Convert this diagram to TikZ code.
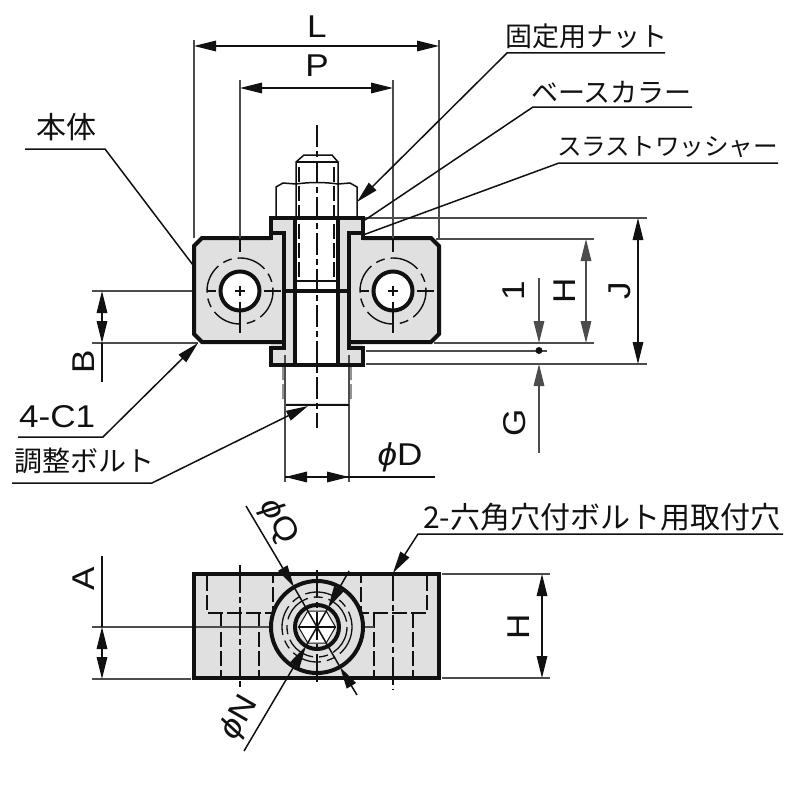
\documentclass[tikz,border=0pt]{standalone}
\usepackage{fontspec}
\usepackage{graphicx}
\setmainfont{Liberation Sans}
\newfontfamily\jpfont{Noto Sans CJK JP}
\usetikzlibrary{arrows.meta}
\definecolor{bodygray}{HTML}{E0E0E0}
\definecolor{inkc}{HTML}{111111}
\newcommand{\widelbl}[1]{\scalebox{1.17}[1.05]{#1}}
\tikzset{
  thick outline/.style={draw=inkc,line width=4pt,line cap=butt,line join=miter},
  thin line/.style={draw=inkc,line width=1.5pt},
  ext line/.style={draw=inkc!75,line width=1.6pt},
  hidden line/.style={draw=inkc,line width=1.4pt,dash pattern=on 15pt off 4pt},
  hidden arc/.style={draw=inkc,line width=1.4pt,dash pattern=on 30pt off 6pt on 9pt off 6pt},
  tipa/.style={-{Triangle[length=22pt,width=10.5pt]}},
  tipb/.style={{Triangle[length=22pt,width=10.5pt]}-{Triangle[length=22pt,width=10.5pt]}},
  lbl/.style={font=\fontsize{30}{32}\selectfont,inner sep=0pt,text=inkc},
  jplbl/.style={font=\jpfont\fontsize{27}{30}\selectfont,inner sep=0pt,text=inkc},
}
\begin{document}
\begin{tikzpicture}[x=1pt,y=-1pt]
\useasboundingbox (0,0) rectangle (800,800);
\fill[white] (0,0) rectangle (800,800);

% ===== upper view: fills
\fill[bodygray] (202,238) -- (194,246) -- (194,334) -- (202,342) -- (431,342) -- (439,334) -- (439,246) -- (431,238) -- cycle;
\fill[bodygray] (271,218) rectangle (363,238);
\fill[bodygray] (271,342) rectangle (363,365);
\fill[white] (295,218) rectangle (338,365);

% extension lines
\draw[ext line] (194,40) -- (194,238);
\draw[ext line] (439,40) -- (439,238);
\draw[ext line] (363,218) -- (647,218);
\draw[ext line] (436,239) -- (594,239);
\draw[ext line] (434,343) -- (594,343);
\draw[ext line] (366,351) -- (547,351);
\draw[ext line] (366,364) -- (647,364);
\draw[ext line] (92,291) -- (194,291);
\draw[ext line] (92,343) -- (198,343);
\draw[ext line] (285,355) -- (285,482);
\draw[ext line] (349,355) -- (349,482);

% bolt and nut
\draw[thin line] (296,218) -- (296,162) -- (304,155) -- (332,155) -- (338,162) -- (338,218);
\draw[thin line] (296,162) -- (338,162);
\draw[thin line] (276,218) -- (276,187) -- (283,183) -- (296,184) .. controls (310,182) and (324,182) .. (338,184) -- (350,183) -- (357,187) -- (357,218);
\draw[hidden line] (299,167) -- (299,281);
\draw[hidden line] (334,167) -- (334,281);
\draw[thin line,line width=1.2pt] (297,281) -- (337,281);

% lower hidden end of the bolt
\draw[hidden line,draw=inkc!70] (283,365) -- (283,399) -- (286,405);
\draw[hidden line,draw=inkc!70] (351,365) -- (351,399) -- (348,405);
\fill[bodygray] (286,403) rectangle (348,405);
\draw[thin line] (286,405) -- (349,405);

% thick outlines
\draw[thick outline] (271,238) -- (202,238) -- (194,246) -- (194,334) -- (202,342) -- (284,342);
\draw[thick outline] (363,238) -- (431,238) -- (439,246) -- (439,334) -- (431,342) -- (349,342);
\draw[thick outline] (271,240) -- (271,218) -- (363,218) -- (363,240);
\draw[thick outline] (271,233) -- (284,233) -- (284,348) -- (271,348);
\draw[thick outline] (363,233) -- (349,233) -- (349,348) -- (363,348);
\draw[thick outline] (271,346) -- (271,365) -- (363,365) -- (363,346);
\draw[thick outline] (295,218) -- (295,365);
\draw[thick outline] (338,218) -- (338,365);
\draw[thick outline] (284,291) -- (349,291);

% bolt centre line
\draw[thin line,line width=1.2pt,dash pattern=on 22pt off 4pt on 6pt off 4pt] (317,125) -- (317,428);

% mounting holes, upper view
\foreach \cx in {240,393}{
  \draw[hidden arc] (\cx,291) circle (33);
  \draw[thick outline,fill=white] (\cx,291) circle (19.5);
  \draw[thin line,line width=1.3pt] (\cx-5,291) -- (\cx+5,291) (\cx,286) -- (\cx,296);
  \draw[thin line,line width=1.3pt] (\cx,302) -- (\cx,333);
  \draw[thin line,line width=1.3pt] (\cx-33,291) -- (\cx-24,291) (\cx+24,291) -- (\cx+41,291);
}
\draw[ext line] (240,80) -- (240,238);
\draw[ext line] (393,80) -- (393,238);
\draw[thin line,line width=1.3pt] (240,238) -- (240,252) (393,238) -- (393,252);

% ===== lower view
\fill[bodygray] (194,574) rectangle (439,678);
\foreach \px/\py in {207/273,427/361}{
  \draw[hidden line] (\px,576) -- (\px,613) -- (\py,613) -- (\py,576);
}
\foreach \hx in {221,259,374,413}{
  \draw[hidden line] (\hx,613) -- (\hx,676);
}
\draw[ext line] (92,627) -- (374,627);
\draw[ext line] (92,679) -- (191,679);
\draw[ext line] (442,574) -- (550,574);
\draw[ext line] (442,678) -- (550,678);
\draw[thin line,line width=1.3pt,dash pattern=on 28pt off 4pt on 6pt off 4pt] (240,565) -- (240,690);
\draw[thin line,line width=1.3pt,dash pattern=on 28pt off 4pt on 6pt off 4pt] (393,573) -- (393,690);
\draw[thick outline] (194,574) rectangle (439,678);
% collar circle
\draw[thick outline,fill=bodygray] (317,627) circle (46);
\draw[hidden arc,line width=1.3pt] (317,627) circle (35);
\draw[hidden arc,line width=1.3pt] (317,627) circle (30);
\draw[thick outline,fill=bodygray] (317,627) circle (22);
\fill[white,draw=inkc,line width=1pt] (335.5,627) -- (326.2,611) -- (307.8,611) -- (298.5,627) -- (307.8,643) -- (326.2,643) -- cycle;
\draw[thin line,line width=1.2pt] (298,627) -- (336,627);
\draw[thin line,line width=1.2pt,dash pattern=on 28pt off 4pt on 6pt off 4pt] (317,570) -- (317,684);

% phi Q and phi N lines
\coordinate (Qa) at (246,506);
\coordinate (Qb) at (294,587);
\coordinate (Qc) at (340,667);
\coordinate (Qd) at (357,695);
\coordinate (Na) at (349,571);
\coordinate (Nb) at (328,608);
\coordinate (Nc) at (306,646);
\coordinate (Nd) at (244,751);
\draw[thin line] (Qb) -- (Qc);
\draw[thin line] (Nb) -- (Nc);
\draw[thin line,tipa] (Qa) -- (Qb);
\draw[thin line,tipa] (Qd) -- (Qc);
\draw[thin line,tipa] (Na) -- (Nb);
\draw[thin line,tipa] (Nd) -- (Nc);

% ===== dimensions
\draw[thin line,tipb] (194,46) -- (439,46);
\draw[thin line,tipb] (240,88) -- (393,88);
\draw[thin line,tipb] (102,291) -- (102,343);
\draw[thin line] (102,343) -- (102,382);
\draw[thin line,tipb] (102,627) -- (102,679);
\draw[thin line] (102,627) -- (102,556);
\draw[ext line,tipb] (586,239) -- (586,343);
\draw[thin line,tipb] (638,218) -- (638,364);
\draw[ext line,tipa] (539,278) -- (539,343);
\draw[ext line,tipa] (539,453) -- (539,364);
\fill[inkc] (539,350.5) circle (3.5);
\draw[thin line] (285,477) -- (435,477);
\draw[thin line,tipa] (307,477) -- (285,477);
\draw[thin line,tipa] (327,477) -- (349,477);
\draw[thin line,tipb] (542,574) -- (542,678);

% ===== labels of dimensions
\node[lbl] (lL) at (317,27) {\widelbl{L}};
\node[lbl] (lP) at (317,66) {\widelbl{P}};
\node[lbl] (lD) at (400,457) {\widelbl{\textit{ϕ}D}};
\node[lbl,rotate=90] (lB) at (84,362) {\widelbl{B}};
\node[lbl,rotate=90] (lA) at (84,579) {\widelbl{A}};
\node[lbl,rotate=90] (l1) at (514,291) {\widelbl{1}};
\node[lbl,rotate=90] (lH) at (565,291) {\widelbl{H}};
\node[lbl,rotate=90] (lJ) at (620,291) {\widelbl{J}};
\node[lbl,rotate=90] (lG) at (515,423) {\widelbl{G}};
\node[lbl,rotate=90] (lH2) at (519,627) {\widelbl{H}};
\node[lbl,rotate=-60] (lQ) at (278,522) {\widelbl{\textit{ϕ}Q}};
\node[lbl,rotate=60] (lN) at (240,718) {\widelbl{\textit{ϕ}N}};

% ===== leaders
\node[jplbl,anchor=west] (t1) at (505,36) {固定用ナット};
\node[jplbl,anchor=west] (t2) at (531,92) {ベースカラー};
\node[jplbl,anchor=west,font=\jpfont\fontsize{24.6}{30}\selectfont] (t3) at (557,147) {スラストワッシャー};
\node[jplbl,anchor=west,font=\jpfont\fontsize{30}{32}\selectfont] (t4) at (36,127) {本体};
\node[jplbl,anchor=west,font=\fontsize{30}{32}\selectfont] (t5) at (19,417) {\widelbl{4-C1}};
\node[jplbl,anchor=west,font=\jpfont\fontsize{28}{30}\selectfont] (t6) at (14,461) {調整ボルト};
\node[jplbl,anchor=west,font=\jpfont\fontsize{30}{32}\selectfont] (t7) at (423,517) {2-六角穴付ボルト用取付穴};

\coordinate (c1) at (507,53);
\coordinate (c2) at (533,107);
\coordinate (c3) at (559,163);
\coordinate (c4) at (105,149);
\coordinate (c5) at (103,437);
\coordinate (c6) at (152,483);
\coordinate (c7) at (418,534);
\draw[thin line,tipa] (665,53) -- (c1) -- (357,202);
\draw[thin line] (692,107) -- (c2) -- (365,220);
\draw[thin line] (778,163) -- (c3) -- (363,235);
\draw[thin line] (25,149) -- (c4) -- (193,265);
\draw[thin line,tipa] (18,437) -- (c5) -- (198,343);
\draw[thin line,tipa] (12,483) -- (c6) -- (308,406);
\draw[thin line,tipa] (783,534) -- (c7) -- (393,573);
\end{tikzpicture}
\end{document}
